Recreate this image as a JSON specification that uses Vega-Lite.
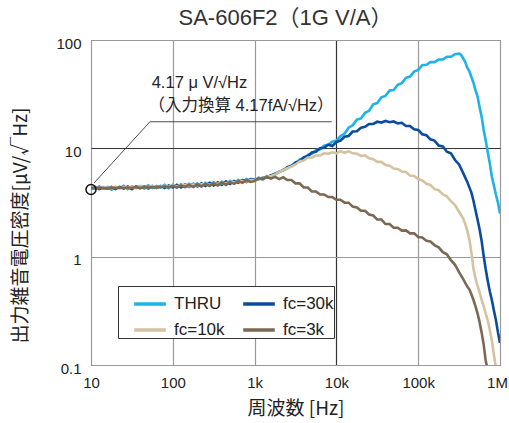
{
  "$schema": "https://vega.github.io/schema/vega-lite/v6.json",
  "width": 409,
  "height": 325,
  "autosize": "none",
  "padding": {"left": 91, "top": 40, "right": 9, "bottom": 58},
  "background": "white",
  "title": {"text": "SA-606F2（1G V/A）", "fontSize": 22, "font": "Liberation Sans, Noto Sans CJK JP", "fontWeight": "normal", "color": "#333", "offset": 6, "dx": -10},
  "config": {
    "view": {"stroke": "#222", "strokeWidth": 1},
    "axis": {"labelFont": "Liberation Sans", "labelFontSize": 15, "labelColor": "#222", "domain": false, "ticks": false, "titleFont": "Noto Sans CJK JP", "titleFontWeight": "normal", "titleColor": "#222", "gridOpacity": 1, "gridWidth": 1.2}
  },
  "datasets": {
    "curves": [
      {"series":"THRU","freq":10,"value":4.35},{"series":"THRU","freq":11.2,"value":4.2},{"series":"THRU","freq":12.6,"value":4.45},{"series":"THRU","freq":14.1,"value":4.25},{"series":"THRU","freq":15.8,"value":4.4},{"series":"THRU","freq":17.8,"value":4.15},{"series":"THRU","freq":20,"value":4.4},{"series":"THRU","freq":22.4,"value":4.3},{"series":"THRU","freq":25.1,"value":4.5},{"series":"THRU","freq":28.2,"value":4.2},{"series":"THRU","freq":31.6,"value":4.45},{"series":"THRU","freq":35.5,"value":4.3},{"series":"THRU","freq":39.8,"value":4.5},{"series":"THRU","freq":44.7,"value":4.25},{"series":"THRU","freq":50.1,"value":4.55},{"series":"THRU","freq":56.2,"value":4.3},{"series":"THRU","freq":63.1,"value":4.5},{"series":"THRU","freq":70.8,"value":4.35},{"series":"THRU","freq":79.4,"value":4.6},{"series":"THRU","freq":89.1,"value":4.3},{"series":"THRU","freq":100,"value":4.6},{"series":"THRU","freq":112,"value":4.35},{"series":"THRU","freq":126,"value":4.65},{"series":"THRU","freq":141,"value":4.4},{"series":"THRU","freq":158,"value":4.7},{"series":"THRU","freq":178,"value":4.45},{"series":"THRU","freq":200,"value":4.75},{"series":"THRU","freq":224,"value":4.45},{"series":"THRU","freq":251,"value":4.8},{"series":"THRU","freq":282,"value":4.55},{"series":"THRU","freq":316,"value":4.85},{"series":"THRU","freq":355,"value":4.6},{"series":"THRU","freq":398,"value":4.9},{"series":"THRU","freq":447,"value":4.65},{"series":"THRU","freq":501,"value":5.0},{"series":"THRU","freq":562,"value":4.75},{"series":"THRU","freq":631,"value":5.1},{"series":"THRU","freq":708,"value":4.85},{"series":"THRU","freq":794,"value":5.2},{"series":"THRU","freq":891,"value":5.0},
      {"series":"THRU","freq":1000,"value":5.05},{"series":"THRU","freq":1120,"value":5.35},{"series":"THRU","freq":1260,"value":5.15},{"series":"THRU","freq":1410,"value":5.55},{"series":"THRU","freq":1580,"value":5.5},{"series":"THRU","freq":1780,"value":5.9},{"series":"THRU","freq":2000,"value":6.0},{"series":"THRU","freq":2240,"value":6.35},{"series":"THRU","freq":2510,"value":6.5},{"series":"THRU","freq":2820,"value":6.95},{"series":"THRU","freq":3160,"value":7.2},{"series":"THRU","freq":3550,"value":7.85},{"series":"THRU","freq":3980,"value":8.1},{"series":"THRU","freq":4470,"value":8.7},{"series":"THRU","freq":5010,"value":8.9},{"series":"THRU","freq":5620,"value":9.6},{"series":"THRU","freq":6310,"value":9.8},{"series":"THRU","freq":7080,"value":10.6},{"series":"THRU","freq":7940,"value":10.8},{"series":"THRU","freq":8910,"value":11.5},{"series":"THRU","freq":10000,"value":11.8},{"series":"THRU","freq":11200,"value":12.9},{"series":"THRU","freq":12600,"value":13.7},{"series":"THRU","freq":14100,"value":15.5},{"series":"THRU","freq":15800,"value":16.3},{"series":"THRU","freq":17800,"value":18.4},{"series":"THRU","freq":20000,"value":18.9},{"series":"THRU","freq":22400,"value":21.3},{"series":"THRU","freq":25100,"value":22.2},{"series":"THRU","freq":28200,"value":25.5},{"series":"THRU","freq":31600,"value":26.2},{"series":"THRU","freq":35500,"value":29.6},{"series":"THRU","freq":39800,"value":30.5},{"series":"THRU","freq":44700,"value":34.2},{"series":"THRU","freq":50100,"value":34.5},{"series":"THRU","freq":56200,"value":38.5},{"series":"THRU","freq":63100,"value":40.0},{"series":"THRU","freq":70800,"value":44.8},{"series":"THRU","freq":79400,"value":46.0},{"series":"THRU","freq":89100,"value":51.0},{"series":"THRU","freq":100000,"value":53.0},{"series":"THRU","freq":112000,"value":58.5},{"series":"THRU","freq":126000,"value":59.0},{"series":"THRU","freq":141000,"value":62.5},{"series":"THRU","freq":158000,"value":62.5},{"series":"THRU","freq":178000,"value":66.0},{"series":"THRU","freq":200000,"value":66.0},{"series":"THRU","freq":224000,"value":70.0},{"series":"THRU","freq":251000,"value":70.0},{"series":"THRU","freq":282000,"value":74.0},{"series":"THRU","freq":316000,"value":75.0},{"series":"THRU","freq":335000,"value":73.0},{"series":"THRU","freq":355000,"value":67.5},{"series":"THRU","freq":376000,"value":62.5},{"series":"THRU","freq":398000,"value":55.5},{"series":"THRU","freq":422000,"value":51.5},{"series":"THRU","freq":447000,"value":45.5},{"series":"THRU","freq":473000,"value":40.5},{"series":"THRU","freq":501000,"value":34.5},{"series":"THRU","freq":531000,"value":30.2},{"series":"THRU","freq":562000,"value":24.2},{"series":"THRU","freq":596000,"value":19.6},{"series":"THRU","freq":631000,"value":14.8},{"series":"THRU","freq":668000,"value":11.9},{"series":"THRU","freq":708000,"value":9.2},{"series":"THRU","freq":750000,"value":7.3},{"series":"THRU","freq":794000,"value":5.5},{"series":"THRU","freq":841000,"value":4.55},{"series":"THRU","freq":891000,"value":3.75},{"series":"THRU","freq":944000,"value":3.15},{"series":"THRU","freq":1000000,"value":2.5},

      {"series":"fc=30k","freq":10,"value":4.25},{"series":"fc=30k","freq":11.2,"value":4.4},{"series":"fc=30k","freq":12.6,"value":4.2},{"series":"fc=30k","freq":14.1,"value":4.35},{"series":"fc=30k","freq":15.8,"value":4.25},{"series":"fc=30k","freq":17.8,"value":4.4},{"series":"fc=30k","freq":20,"value":4.2},{"series":"fc=30k","freq":22.4,"value":4.4},{"series":"fc=30k","freq":25.1,"value":4.25},{"series":"fc=30k","freq":28.2,"value":4.45},{"series":"fc=30k","freq":31.6,"value":4.2},{"series":"fc=30k","freq":35.5,"value":4.45},{"series":"fc=30k","freq":39.8,"value":4.3},{"series":"fc=30k","freq":44.7,"value":4.45},{"series":"fc=30k","freq":50.1,"value":4.25},{"series":"fc=30k","freq":56.2,"value":4.5},{"series":"fc=30k","freq":63.1,"value":4.3},{"series":"fc=30k","freq":70.8,"value":4.5},{"series":"fc=30k","freq":79.4,"value":4.3},{"series":"fc=30k","freq":89.1,"value":4.55},{"series":"fc=30k","freq":100,"value":4.35},{"series":"fc=30k","freq":112,"value":4.6},{"series":"fc=30k","freq":126,"value":4.35},{"series":"fc=30k","freq":141,"value":4.65},{"series":"fc=30k","freq":158,"value":4.4},{"series":"fc=30k","freq":178,"value":4.7},{"series":"fc=30k","freq":200,"value":4.45},{"series":"fc=30k","freq":224,"value":4.75},{"series":"fc=30k","freq":251,"value":4.5},{"series":"fc=30k","freq":282,"value":4.8},{"series":"fc=30k","freq":316,"value":4.55},{"series":"fc=30k","freq":355,"value":4.85},{"series":"fc=30k","freq":398,"value":4.6},{"series":"fc=30k","freq":447,"value":4.95},{"series":"fc=30k","freq":501,"value":4.7},{"series":"fc=30k","freq":562,"value":5.0},{"series":"fc=30k","freq":631,"value":4.8},{"series":"fc=30k","freq":708,"value":5.1},{"series":"fc=30k","freq":794,"value":4.9},{"series":"fc=30k","freq":891,"value":5.2},
      {"series":"fc=30k","freq":1000,"value":5.15},{"series":"fc=30k","freq":1120,"value":5.2},{"series":"fc=30k","freq":1260,"value":5.35},{"series":"fc=30k","freq":1410,"value":5.35},{"series":"fc=30k","freq":1580,"value":5.65},{"series":"fc=30k","freq":1780,"value":5.75},{"series":"fc=30k","freq":2000,"value":6.1},{"series":"fc=30k","freq":2240,"value":6.25},{"series":"fc=30k","freq":2510,"value":6.7},{"series":"fc=30k","freq":2820,"value":6.85},{"series":"fc=30k","freq":3160,"value":7.4},{"series":"fc=30k","freq":3550,"value":7.6},{"series":"fc=30k","freq":3980,"value":8.25},{"series":"fc=30k","freq":4470,"value":8.5},{"series":"fc=30k","freq":5010,"value":9.15},{"series":"fc=30k","freq":5620,"value":9.3},{"series":"fc=30k","freq":6310,"value":10.0},{"series":"fc=30k","freq":7080,"value":10.1},{"series":"fc=30k","freq":7940,"value":10.8},{"series":"fc=30k","freq":8910,"value":10.5},{"series":"fc=30k","freq":10000,"value":11.4},{"series":"fc=30k","freq":11200,"value":11.8},{"series":"fc=30k","freq":12600,"value":12.8},{"series":"fc=30k","freq":14100,"value":13.0},{"series":"fc=30k","freq":15800,"value":14.3},{"series":"fc=30k","freq":17800,"value":14.4},{"series":"fc=30k","freq":20000,"value":15.5},{"series":"fc=30k","freq":22400,"value":15.8},{"series":"fc=30k","freq":25100,"value":16.8},{"series":"fc=30k","freq":28200,"value":16.8},{"series":"fc=30k","freq":31600,"value":17.6},{"series":"fc=30k","freq":35500,"value":17.3},{"series":"fc=30k","freq":39800,"value":17.9},{"series":"fc=30k","freq":44700,"value":17.4},{"series":"fc=30k","freq":50100,"value":17.7},{"series":"fc=30k","freq":56200,"value":17.0},{"series":"fc=30k","freq":63100,"value":17.2},{"series":"fc=30k","freq":70800,"value":16.1},{"series":"fc=30k","freq":79400,"value":16.1},{"series":"fc=30k","freq":89100,"value":15.0},{"series":"fc=30k","freq":100000,"value":14.8},{"series":"fc=30k","freq":112000,"value":13.5},{"series":"fc=30k","freq":126000,"value":13.2},{"series":"fc=30k","freq":141000,"value":12.1},{"series":"fc=30k","freq":158000,"value":11.8},{"series":"fc=30k","freq":178000,"value":10.6},{"series":"fc=30k","freq":200000,"value":10.4},{"series":"fc=30k","freq":224000,"value":9.3},{"series":"fc=30k","freq":251000,"value":9.0},{"series":"fc=30k","freq":282000,"value":7.8},{"series":"fc=30k","freq":316000,"value":7.1},{"series":"fc=30k","freq":355000,"value":5.9},{"series":"fc=30k","freq":398000,"value":4.9},{"series":"fc=30k","freq":447000,"value":3.9},{"series":"fc=30k","freq":473000,"value":3.3},{"series":"fc=30k","freq":501000,"value":2.7},{"series":"fc=30k","freq":531000,"value":2.2},{"series":"fc=30k","freq":562000,"value":1.8},{"series":"fc=30k","freq":596000,"value":1.4},{"series":"fc=30k","freq":631000,"value":1.02},{"series":"fc=30k","freq":668000,"value":0.77},{"series":"fc=30k","freq":708000,"value":0.6},{"series":"fc=30k","freq":750000,"value":0.48},{"series":"fc=30k","freq":794000,"value":0.4},{"series":"fc=30k","freq":841000,"value":0.32},{"series":"fc=30k","freq":891000,"value":0.26},{"series":"fc=30k","freq":944000,"value":0.2},{"series":"fc=30k","freq":1000000,"value":0.16},

      {"series":"fc=10k","freq":10,"value":4.3},{"series":"fc=10k","freq":11.2,"value":4.35},{"series":"fc=10k","freq":12.6,"value":4.3},{"series":"fc=10k","freq":14.1,"value":4.4},{"series":"fc=10k","freq":15.8,"value":4.3},{"series":"fc=10k","freq":17.8,"value":4.35},{"series":"fc=10k","freq":20,"value":4.4},{"series":"fc=10k","freq":22.4,"value":4.25},{"series":"fc=10k","freq":25.1,"value":4.4},{"series":"fc=10k","freq":28.2,"value":4.35},{"series":"fc=10k","freq":31.6,"value":4.4},{"series":"fc=10k","freq":35.5,"value":4.3},{"series":"fc=10k","freq":39.8,"value":4.45},{"series":"fc=10k","freq":44.7,"value":4.4},{"series":"fc=10k","freq":50.1,"value":4.35},{"series":"fc=10k","freq":56.2,"value":4.5},{"series":"fc=10k","freq":63.1,"value":4.35},{"series":"fc=10k","freq":70.8,"value":4.45},{"series":"fc=10k","freq":79.4,"value":4.5},{"series":"fc=10k","freq":89.1,"value":4.4},{"series":"fc=10k","freq":100,"value":4.55},{"series":"fc=10k","freq":112,"value":4.45},{"series":"fc=10k","freq":126,"value":4.55},{"series":"fc=10k","freq":141,"value":4.6},{"series":"fc=10k","freq":158,"value":4.45},{"series":"fc=10k","freq":178,"value":4.65},{"series":"fc=10k","freq":200,"value":4.55},{"series":"fc=10k","freq":224,"value":4.65},{"series":"fc=10k","freq":251,"value":4.7},{"series":"fc=10k","freq":282,"value":4.6},{"series":"fc=10k","freq":316,"value":4.75},{"series":"fc=10k","freq":355,"value":4.7},{"series":"fc=10k","freq":398,"value":4.8},{"series":"fc=10k","freq":447,"value":4.75},{"series":"fc=10k","freq":501,"value":4.9},{"series":"fc=10k","freq":562,"value":4.85},{"series":"fc=10k","freq":631,"value":4.95},{"series":"fc=10k","freq":708,"value":5.0},{"series":"fc=10k","freq":794,"value":4.95},{"series":"fc=10k","freq":891,"value":5.1},
      {"series":"fc=10k","freq":1000,"value":5.1},{"series":"fc=10k","freq":1120,"value":5.25},{"series":"fc=10k","freq":1260,"value":5.2},{"series":"fc=10k","freq":1410,"value":5.45},{"series":"fc=10k","freq":1580,"value":5.55},{"series":"fc=10k","freq":1780,"value":5.75},{"series":"fc=10k","freq":2000,"value":6.05},{"series":"fc=10k","freq":2240,"value":6.3},{"series":"fc=10k","freq":2510,"value":6.55},{"series":"fc=10k","freq":2820,"value":6.8},{"series":"fc=10k","freq":3160,"value":7.1},{"series":"fc=10k","freq":3550,"value":7.55},{"series":"fc=10k","freq":3980,"value":7.7},{"series":"fc=10k","freq":4470,"value":8.2},{"series":"fc=10k","freq":5010,"value":8.2},{"series":"fc=10k","freq":5620,"value":8.6},{"series":"fc=10k","freq":6310,"value":8.6},{"series":"fc=10k","freq":7080,"value":9.0},{"series":"fc=10k","freq":7940,"value":8.9},{"series":"fc=10k","freq":8910,"value":9.2},{"series":"fc=10k","freq":10000,"value":9.0},{"series":"fc=10k","freq":11200,"value":9.4},{"series":"fc=10k","freq":12600,"value":9.1},{"series":"fc=10k","freq":14100,"value":9.4},{"series":"fc=10k","freq":15800,"value":9.0},{"series":"fc=10k","freq":17800,"value":8.9},{"series":"fc=10k","freq":20000,"value":8.5},{"series":"fc=10k","freq":22400,"value":8.6},{"series":"fc=10k","freq":25100,"value":8.1},{"series":"fc=10k","freq":28200,"value":7.95},{"series":"fc=10k","freq":31600,"value":7.5},{"series":"fc=10k","freq":35500,"value":7.5},{"series":"fc=10k","freq":39800,"value":7.0},{"series":"fc=10k","freq":44700,"value":6.9},{"series":"fc=10k","freq":50100,"value":6.5},{"series":"fc=10k","freq":56200,"value":6.45},{"series":"fc=10k","freq":63100,"value":6.1},{"series":"fc=10k","freq":70800,"value":6.05},{"series":"fc=10k","freq":79400,"value":5.6},{"series":"fc=10k","freq":89100,"value":5.55},{"series":"fc=10k","freq":100000,"value":5.2},{"series":"fc=10k","freq":112000,"value":5.05},{"series":"fc=10k","freq":126000,"value":4.7},{"series":"fc=10k","freq":141000,"value":4.6},{"series":"fc=10k","freq":158000,"value":4.2},{"series":"fc=10k","freq":178000,"value":4.1},{"series":"fc=10k","freq":200000,"value":3.75},{"series":"fc=10k","freq":224000,"value":3.6},{"series":"fc=10k","freq":251000,"value":3.25},{"series":"fc=10k","freq":282000,"value":3.0},{"series":"fc=10k","freq":316000,"value":2.6},{"series":"fc=10k","freq":355000,"value":2.25},{"series":"fc=10k","freq":376000,"value":2.0},{"series":"fc=10k","freq":398000,"value":1.75},{"series":"fc=10k","freq":422000,"value":1.45},{"series":"fc=10k","freq":447000,"value":1.1},{"series":"fc=10k","freq":473000,"value":0.78},{"series":"fc=10k","freq":501000,"value":0.63},{"series":"fc=10k","freq":531000,"value":0.54},{"series":"fc=10k","freq":562000,"value":0.47},{"series":"fc=10k","freq":596000,"value":0.4},{"series":"fc=10k","freq":631000,"value":0.35},{"series":"fc=10k","freq":668000,"value":0.3},{"series":"fc=10k","freq":708000,"value":0.26},{"series":"fc=10k","freq":750000,"value":0.21},{"series":"fc=10k","freq":794000,"value":0.17},{"series":"fc=10k","freq":841000,"value":0.125},{"series":"fc=10k","freq":891000,"value":0.095},

      {"series":"fc=3k","freq":10,"value":4.3},{"series":"fc=3k","freq":11.2,"value":4.3},{"series":"fc=3k","freq":12.6,"value":4.35},{"series":"fc=3k","freq":14.1,"value":4.3},{"series":"fc=3k","freq":15.8,"value":4.25},{"series":"fc=3k","freq":17.8,"value":4.35},{"series":"fc=3k","freq":20,"value":4.3},{"series":"fc=3k","freq":22.4,"value":4.35},{"series":"fc=3k","freq":25.1,"value":4.3},{"series":"fc=3k","freq":28.2,"value":4.35},{"series":"fc=3k","freq":31.6,"value":4.3},{"series":"fc=3k","freq":35.5,"value":4.4},{"series":"fc=3k","freq":39.8,"value":4.3},{"series":"fc=3k","freq":44.7,"value":4.4},{"series":"fc=3k","freq":50.1,"value":4.35},{"series":"fc=3k","freq":56.2,"value":4.4},{"series":"fc=3k","freq":63.1,"value":4.35},{"series":"fc=3k","freq":70.8,"value":4.4},{"series":"fc=3k","freq":79.4,"value":4.45},{"series":"fc=3k","freq":89.1,"value":4.35},{"series":"fc=3k","freq":100,"value":4.5},{"series":"fc=3k","freq":112,"value":4.35},{"series":"fc=3k","freq":126,"value":4.55},{"series":"fc=3k","freq":141,"value":4.4},{"series":"fc=3k","freq":158,"value":4.6},{"series":"fc=3k","freq":178,"value":4.4},{"series":"fc=3k","freq":200,"value":4.65},{"series":"fc=3k","freq":224,"value":4.45},{"series":"fc=3k","freq":251,"value":4.7},{"series":"fc=3k","freq":282,"value":4.5},{"series":"fc=3k","freq":316,"value":4.75},{"series":"fc=3k","freq":355,"value":4.55},{"series":"fc=3k","freq":398,"value":4.85},{"series":"fc=3k","freq":447,"value":4.6},{"series":"fc=3k","freq":501,"value":4.9},{"series":"fc=3k","freq":562,"value":4.7},{"series":"fc=3k","freq":631,"value":5.0},{"series":"fc=3k","freq":708,"value":4.8},{"series":"fc=3k","freq":794,"value":5.1},{"series":"fc=3k","freq":891,"value":4.9},
      {"series":"fc=3k","freq":1000,"value":5.0},{"series":"fc=3k","freq":1120,"value":5.3},{"series":"fc=3k","freq":1260,"value":5.2},{"series":"fc=3k","freq":1410,"value":5.45},{"series":"fc=3k","freq":1580,"value":5.25},{"series":"fc=3k","freq":1780,"value":5.45},{"series":"fc=3k","freq":2000,"value":5.2},{"series":"fc=3k","freq":2240,"value":5.4},{"series":"fc=3k","freq":2510,"value":5.1},{"series":"fc=3k","freq":2820,"value":5.1},{"series":"fc=3k","freq":3160,"value":4.75},{"series":"fc=3k","freq":3550,"value":4.75},{"series":"fc=3k","freq":3980,"value":4.35},{"series":"fc=3k","freq":4470,"value":4.35},{"series":"fc=3k","freq":5010,"value":4.0},{"series":"fc=3k","freq":5620,"value":4.0},{"series":"fc=3k","freq":6310,"value":3.75},{"series":"fc=3k","freq":7080,"value":3.75},{"series":"fc=3k","freq":7940,"value":3.55},{"series":"fc=3k","freq":8910,"value":3.55},{"series":"fc=3k","freq":10000,"value":3.35},{"series":"fc=3k","freq":11200,"value":3.35},{"series":"fc=3k","freq":12600,"value":3.15},{"series":"fc=3k","freq":14100,"value":3.15},{"series":"fc=3k","freq":15800,"value":2.9},{"series":"fc=3k","freq":17800,"value":2.85},{"series":"fc=3k","freq":20000,"value":2.65},{"series":"fc=3k","freq":22400,"value":2.65},{"series":"fc=3k","freq":25100,"value":2.45},{"series":"fc=3k","freq":28200,"value":2.4},{"series":"fc=3k","freq":31600,"value":2.2},{"series":"fc=3k","freq":35500,"value":2.2},{"series":"fc=3k","freq":39800,"value":2.0},{"series":"fc=3k","freq":44700,"value":2.0},{"series":"fc=3k","freq":50100,"value":1.85},{"series":"fc=3k","freq":56200,"value":1.85},{"series":"fc=3k","freq":63100,"value":1.74},{"series":"fc=3k","freq":70800,"value":1.75},{"series":"fc=3k","freq":79400,"value":1.64},{"series":"fc=3k","freq":89100,"value":1.64},{"series":"fc=3k","freq":100000,"value":1.52},{"series":"fc=3k","freq":112000,"value":1.5},{"series":"fc=3k","freq":126000,"value":1.4},{"series":"fc=3k","freq":141000,"value":1.38},{"series":"fc=3k","freq":158000,"value":1.28},{"series":"fc=3k","freq":178000,"value":1.22},{"series":"fc=3k","freq":200000,"value":1.1},{"series":"fc=3k","freq":224000,"value":1.05},{"series":"fc=3k","freq":251000,"value":0.93},{"series":"fc=3k","freq":282000,"value":0.84},{"series":"fc=3k","freq":316000,"value":0.72},{"series":"fc=3k","freq":355000,"value":0.62},{"series":"fc=3k","freq":398000,"value":0.53},{"series":"fc=3k","freq":422000,"value":0.5},{"series":"fc=3k","freq":447000,"value":0.45},{"series":"fc=3k","freq":473000,"value":0.4},{"series":"fc=3k","freq":501000,"value":0.35},{"series":"fc=3k","freq":531000,"value":0.3},{"series":"fc=3k","freq":562000,"value":0.25},{"series":"fc=3k","freq":596000,"value":0.2},{"series":"fc=3k","freq":631000,"value":0.155},{"series":"fc=3k","freq":668000,"value":0.11},{"series":"fc=3k","freq":708000,"value":0.09}
    ]
  },
  "layer": [
    {
      "data": {"name": "curves"},
      "encoding": {
        "x": {"field": "freq", "type": "quantitative", "scale": {"type": "log", "domain": [10, 1000000]},
          "axis": {"title": "周波数 [Hz]", "titleFontSize": 19, "titleY": 43, "titleBaseline": "middle", "values": [10, 100, 1000, 10000, 100000, 1000000], "labelExpr": "datum.value >= 1000000 ? '1M' : datum.value >= 1000 ? format(datum.value / 1000, 'd') + 'k' : format(datum.value, 'd')", "labelPadding": 10, "labelOffset": {"condition": {"test": "datum.value == 1000000", "value": -3}, "value": 0}, "gridColor": {"condition": {"test": "datum.value == 10000", "value": "#333"}, "value": "#999"}, "labelFlush": false}},
        "y": {"field": "value", "type": "quantitative", "scale": {"type": "log", "domain": [0.1, 100]},
          "axis": {"title": "出力雑音電圧密度[μV/√Hz]", "titleFontSize": 19, "titleX": -71, "titleY": 185, "titleAngle": 270, "titleAlign": "center", "titleBaseline": "middle", "values": [0.1, 1, 10, 100], "labelExpr": "datum.value < 1 ? '0.1' : format(datum.value, 'd')", "labelPadding": 10, "labelOffset": 3, "gridColor": {"condition": {"test": "datum.value == 10", "value": "#333"}, "value": "#999"}}},
        "color": {"field": "series", "type": "nominal",
          "scale": {"domain": ["THRU", "fc=30k", "fc=10k", "fc=3k"], "range": ["#1EB2E8", "#0B4C9E", "#D4C2A1", "#7B6954"]},
          "legend": {"title": null, "orient": "none", "legendX": 27, "legendY": 246, "direction": "horizontal", "columns": 2, "columnPadding": 2, "rowPadding": -11, "padding": 0, "symbolOffset": 14, "symbolType": "stroke", "symbolSize": 1000, "symbolStrokeWidth": 3.5, "labelFont": "Liberation Sans", "labelFontSize": 17, "labelColor": "#222", "labelOffset": 6, "labelExpr": "datum.label == 'fc=30k' || datum.label == 'fc=3k' ? datum.label + '\u00a0\u00a0\u00a0\u00a0\u00a0\u00a0' : datum.label + '\u00a0\u00a0\u00a0'", "strokeColor": "#333", "fillColor": "white"}}
      },
      "layer": [
        {"transform": [{"filter": "datum.series == 'THRU'"}], "mark": {"type": "line", "strokeWidth": 2.6, "clip": true}},
        {"transform": [{"filter": "datum.series == 'fc=30k'"}], "mark": {"type": "line", "strokeWidth": 2.6, "clip": true}},
        {"transform": [{"filter": "datum.series == 'fc=10k'"}], "mark": {"type": "line", "strokeWidth": 2.6, "clip": true}},
        {"transform": [{"filter": "datum.series == 'fc=3k'"}], "mark": {"type": "line", "strokeWidth": 2.6, "clip": true}}
      ]
    },
    {
      "data": {"values": [{"freq": 10.9, "value": 4.79, "o": 1}, {"freq": 52.6, "value": 17.6, "o": 2}, {"freq": 8770, "value": 17.6, "o": 3}]},
      "mark": {"type": "line", "color": "#222", "strokeWidth": 0.8},
      "encoding": {"x": {"field": "freq", "type": "quantitative"}, "y": {"field": "value", "type": "quantitative"}, "order": {"field": "o", "type": "quantitative"}}
    },
    {
      "data": {"values": [{"freq": 10, "value": 4.17}]},
      "mark": {"type": "point", "shape": "circle", "size": 100, "filled": false, "stroke": "#111", "strokeWidth": 1.5, "opacity": 1},
      "encoding": {"x": {"field": "freq", "type": "quantitative"}, "y": {"field": "value", "type": "quantitative"}}
    },
    {
      "data": {"values": [{"freq": 55.2, "value": 40.5, "label": "4.17 μ V/√Hz"}, {"freq": 50.5, "value": 24.8, "label": "（入力換算 4.17fA/√Hz）"}]},
      "mark": {"type": "text", "align": "left", "baseline": "middle", "fontSize": 16.5, "font": "Liberation Sans, Noto Sans CJK JP", "color": "#222"},
      "encoding": {"x": {"field": "freq", "type": "quantitative"}, "y": {"field": "value", "type": "quantitative"}, "text": {"field": "label"}}
    }
  ]
}
